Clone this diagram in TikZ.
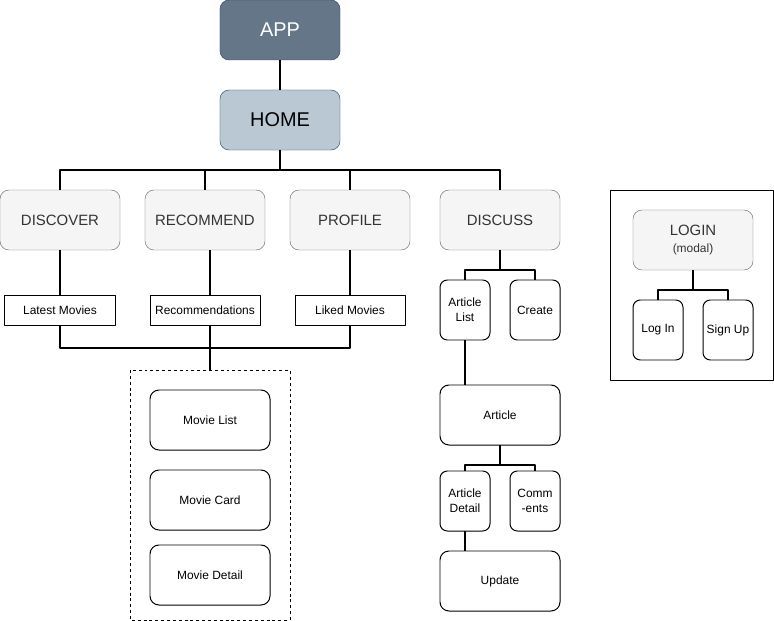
\documentclass[tikz,border=0pt]{standalone}
\usepackage{fontspec}
\setmainfont{Liberation Sans}
\definecolor{appfill}{HTML}{647687}
\definecolor{appline}{HTML}{314354}
\definecolor{homefill}{HTML}{BAC8D3}
\definecolor{homeline}{HTML}{23445D}
\definecolor{pagefill}{HTML}{F5F5F5}
\definecolor{pageline}{HTML}{666666}
\definecolor{pagetext}{HTML}{333333}
\begin{document}
\begin{tikzpicture}[x=0.03cm, y=-0.03cm, line join = round,
  base/.style={inner sep=0pt, outer sep=0pt, align=center},
  topbox/.style={base, rounded corners=0.27cm, minimum width=3.6cm, minimum height=1.8cm, font=\fontsize{17}{20}\selectfont},
  pagebox/.style={base, rounded corners=0.27cm, draw=pageline, fill=pagefill, text=pagetext, minimum width=3.6cm, minimum height=1.8cm, font=\fontsize{12.75}{15}\selectfont},
  compbox/.style={base, rounded corners=0.27cm, draw=black, line width=0.85pt, minimum width=3.6cm, minimum height=1.8cm, font=\fontsize{10.2}{13}\selectfont},
  narrowbox/.style={compbox, rounded corners=0.22cm, minimum width=1.5cm},
  labelbox/.style={base, draw=black, line width=0.85pt, minimum width=3.3cm, minimum height=0.9cm, font=\fontsize{10.2}{13}\selectfont},
  link/.style={line width=1.3pt},
  bus/.style={line width=1.8pt}]
\useasboundingbox (0,0) rectangle (774,621);

% frames
\draw[line width=0.7pt, dash pattern=on 2.5pt off 2.5pt] (130,370) rectangle (290,620); % movie components
\draw[line width=0.85pt] (610,190) rectangle (773,380); % login modal

% root
\node[topbox, draw=appline, fill=appfill, text=white] (app) at (280,30) {APP};
\node[topbox, draw=homeline, fill=homefill, text=black] (home) at (280,120) {HOME};

% pages
\node[pagebox] (discover) at (60,220) {DISCOVER};
\node[pagebox] (recommend) at (205,220) {RECOMMEND};
\node[pagebox] (profile) at (350,220) {PROFILE};
\node[pagebox] (discuss) at (500,220) {DISCUSS};
\node[pagebox] (login) at (693,240) {LOGIN\\[-1pt]{\fontsize{10.2}{12}\selectfont (modal)}};

% movie lists
\node[labelbox] (latest) at (60,310) {Latest Movies};
\node[labelbox] (recs) at (205,310) {Recommendations};
\node[labelbox] (liked) at (350,310) {Liked Movies};

% movie components
\node[compbox] (movlist) at (210,420) {Movie List};
\node[compbox] (movcard) at (210,500) {Movie Card};
\node[compbox] (movdetail) at (210,575) {Movie Detail};

% community
\node[narrowbox] (artlist) at (465,310) {Article\\List};
\node[narrowbox] (create) at (535,310) {Create};
\node[compbox] (article) at (500,415) {Article};
\node[narrowbox] (artdetail) at (465,501) {Article\\Detail};
\node[narrowbox] (comments) at (535,501) {Comm\\-ents};
\node[compbox] (update) at (500,581) {Update};

% login
\node[narrowbox] (logIn) at (658,330) {Log In};
\node[narrowbox] (signup) at (728,330) {Sign Up};

% bus points
\coordinate (homebus) at (280,170);
\coordinate (listbus) at (210,348);
\coordinate (discbus) at (500,270);
\coordinate (artbus) at (500,465);
\coordinate (loginbus) at (693,290);

% edges
\draw[link] (app) -- (home);
\draw[bus] (home.south) -- (homebus);
\foreach \p in {discover,recommend,profile,discuss}
    \draw[bus] (homebus) -| (\p.north);
\draw[link] (discover) -- (latest);
\draw[link] ([xshift=0.15cm]recommend.south) -- ([xshift=0.15cm]recs.north);
\draw[link] (profile) -- (liked);
\draw[link] (latest.south) |- (listbus) -| (liked.south);
\draw[link] (recs.south -| listbus) -- (listbus) -- (210,370);

% discuss edges
\draw[bus] (discuss.south) -- (discbus);
\draw[bus] (discbus) -| (artlist.north);
\draw[bus] (discbus) -| (create.north);
\draw[link] (artlist.south) -- (artlist.south |- article.north);
\draw[bus] (article.south) -- (artbus);
\draw[bus] (artbus) -| (artdetail.north);
\draw[bus] (artbus) -| (comments.north);
\draw[link] (artdetail.south) -- (artdetail.south |- update.north);

% login edges
\draw[bus] (login.south) -- (loginbus);
\draw[bus] (loginbus) -| (logIn.north);
\draw[bus] (loginbus) -| (signup.north);

\end{tikzpicture}
\end{document}
